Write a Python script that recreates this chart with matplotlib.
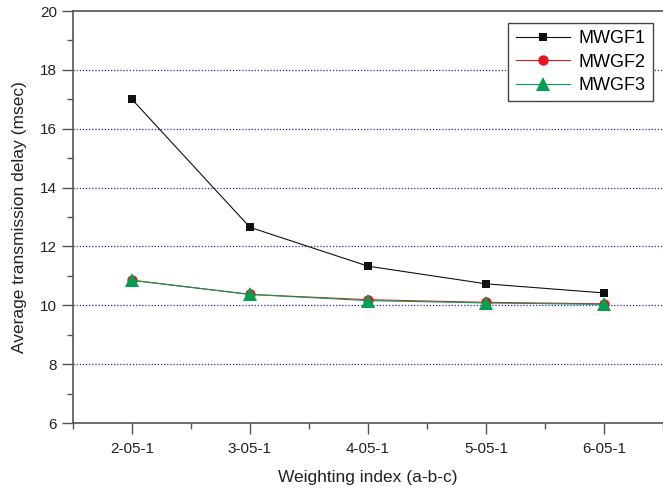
import matplotlib
matplotlib.use('Agg')
import matplotlib.pyplot as plt
from matplotlib.ticker import MultipleLocator
import numpy as np

plt.rcParams['font.family'] = ['Liberation Sans', 'DejaVu Sans']

# data
labels = ['2-05-1', '3-05-1', '4-05-1', '5-05-1', '6-05-1']
mwgf1 = [17.0, 12.65, 11.33, 10.73, 10.42]
mwgf2 = [10.85, 10.37, 10.19, 10.10, 10.05]
mwgf3 = [10.85, 10.37, 10.16, 10.08, 10.03]

x = np.arange(len(labels))

fig = plt.figure(figsize=(6.63, 4.94), dpi=100)
ax = fig.add_axes([0.110, 0.1437, 0.890, 0.834])

ax.plot(x, mwgf1, color='#111111', lw=0.8, marker='s', ms=5.8,
        markeredgewidth=0, label='MWGF1', zorder=3)
ax.plot(x, mwgf2, color='#e8141e', lw=0.8, marker='o', ms=7.5,
        markeredgewidth=0, label='MWGF2', zorder=3)
ax.plot(x, mwgf3, color='#00a050', lw=0.8, marker='^', ms=10,
        markeredgewidth=0, label='MWGF3', zorder=4)

ax.set_xlim(-0.5, 4.5)
ax.set_ylim(6, 20)
ax.set_xticks(x)
ax.set_xticklabels(labels)
ax.xaxis.set_minor_locator(MultipleLocator(0.5))
ax.yaxis.set_major_locator(MultipleLocator(2))
ax.yaxis.set_minor_locator(MultipleLocator(1))

# dotted blue grid lines at inner major ticks
for yv in range(8, 20, 2):
    ax.axhline(yv, color='#2a2aa8', lw=0.9, ls=(0, (1, 1.5)), zorder=1)

ax.tick_params(which='major', direction='out', length=8, width=1,
               color='#555555', labelsize=11, labelcolor='#222222')
ax.tick_params(which='minor', direction='out', length=4, width=1,
               color='#555555')
ax.tick_params(axis='x', pad=6)

for s in ['left', 'bottom', 'top']:
    ax.spines[s].set_color('#555555')
    ax.spines[s].set_linewidth(1.2)
ax.spines['right'].set_visible(False)

ax.set_xlabel('Weighting index (a-b-c)', fontsize=12.5, color='#222222',
              labelpad=10)
ax.set_ylabel('Average transmission delay (msec)', fontsize=12.5,
              color='#222222', labelpad=9)

leg = ax.legend(loc='upper right', bbox_to_anchor=(0.983, 0.971),
                borderaxespad=0, fontsize=13, fancybox=False, framealpha=1,
                edgecolor='#444444', handlelength=3.0, borderpad=0.4,
                labelspacing=0.35, handletextpad=0.5)
leg.get_frame().set_linewidth(1.0)

fig.savefig('out.png', dpi=100)
